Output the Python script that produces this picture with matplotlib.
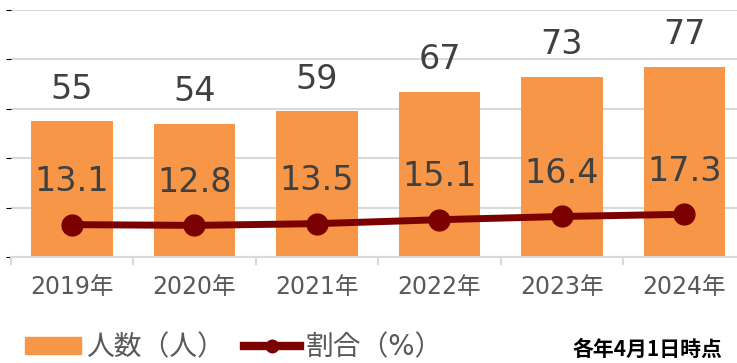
import matplotlib
matplotlib.use('Agg')
import matplotlib.pyplot as plt
from matplotlib.patches import Patch
from matplotlib.lines import Line2D

plt.rcParams['font.family'] = ['DejaVu Sans', 'Noto Sans CJK JP']

years = ['2019年', '2020年', '2021年', '2022年', '2023年', '2024年']
people = [55, 54, 59, 67, 73, 77]
ratio = [13.1, 12.8, 13.5, 15.1, 16.4, 17.3]

bar_color = '#F79646'
line_color = '#7B0000'
text_color = '#404040'

fig = plt.figure(figsize=(7.37, 3.63), dpi=100)
ax = fig.add_axes([10.7/737, 106/363, 735/737, 247/363])
x = range(len(years))

ax.bar(x, people, width=0.665, color=bar_color, zorder=2)
for i, v in enumerate(people):
    ax.annotate(str(v), (i, v), xytext=(0, 32), textcoords='offset pixels',
                ha='center', va='center', fontsize=24, color=text_color)

ax.set_xlim(-0.5, len(years) - 0.5)
ax.set_ylim(0, 100)
ax.set_yticks([0, 20, 40, 60, 80, 100])
ax.yaxis.grid(True, color='#D9D9D9', linewidth=1.5, zorder=0)
ax.set_axisbelow(True)
ax.tick_params(axis='y', left=False, labelleft=False)
for s in ['top', 'right', 'left']:
    ax.spines[s].set_visible(False)
ax.spines['bottom'].set_color('#D9D9D9')
ax.spines['bottom'].set_linewidth(1.5)
ax.set_xticks(list(x))
ax.set_xticklabels(years, fontsize=17, color='#595959')
ax.set_xticks([i - 0.5 for i in range(len(years) + 1)], minor=True)
ax.tick_params(axis='x', which='major', length=0, pad=13)
ax.tick_params(axis='x', which='minor', length=6, width=1.5, color='#D9D9D9')

ax2 = ax.twinx()
ax2.set_ylim(0, 100)
ax2.plot(x, ratio, color=line_color, linewidth=5, marker='o', markersize=15, zorder=3)
for i, v in enumerate(ratio):
    ax2.annotate(f'{v:.1f}', (i, v), xytext=(0, 43), textcoords='offset pixels',
                 ha='center', va='center', fontsize=24, color=text_color)
ax2.axis('off')

handles = [Patch(color=bar_color),
           Line2D([], [], color=line_color, linewidth=6, marker='o', markersize=9)]
fig.legend(handles, ['人数（人）', '割合（%）'], loc='center left',
           bbox_to_anchor=(25/737, 16/363), ncol=2, frameon=False,
           fontsize=20, labelcolor='#595959', handlelength=2.0, handleheight=0.55,
           columnspacing=0.7, handletextpad=0.2, borderpad=0, borderaxespad=0)

fig.text(722/737, 14/363, '各年4月1日時点', ha='right', va='center',
         fontsize=15, fontweight='bold', color='black', family=['Noto Sans CJK JP'])

fig.savefig('out.png', dpi=100)
